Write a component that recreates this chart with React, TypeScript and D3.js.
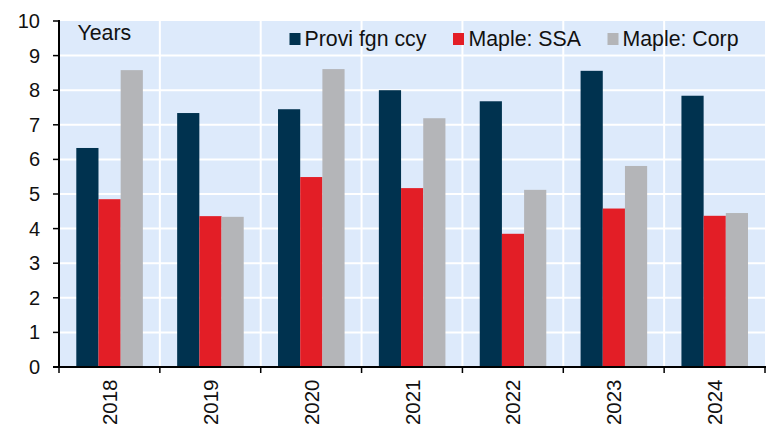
import React from "react";
import * as d3 from "d3";

const categories = ["2018", "2019", "2020", "2021", "2022", "2023", "2024"];
const seriesNames = ["Provi fgn ccy", "Maple: SSA", "Maple: Corp"];
const proviFgnCcy = [6.33, 7.34, 7.45, 8.0, 7.68, 8.56, 7.84];
const mapleSSA = [4.85, 4.36, 5.49, 5.17, 3.85, 4.58, 4.37];
const mapleCorp = [8.58, 4.34, 8.61, 7.19, 5.12, 5.81, 4.45];
const yTicks = [0, 1, 2, 3, 4, 5, 6, 7, 8, 9, 10];
const colors = ["#00324F", "#E31E26", "#B4B5B8"];

const W = 775;
const H = 424;
const left = 59;
const right = 765;
const top = 21;
const bottom = 367;
const FONT = "'Liberation Sans', Arial, sans-serif";

export default function App() {
  const seriesValues = [proviFgnCcy, mapleSSA, mapleCorp];
  const x0 = d3.scaleBand<string>().domain(categories).range([left, right]).padding(0);
  const bw = x0.bandwidth();
  const x1 = d3
    .scaleBand<string>()
    .domain(seriesNames)
    .range([17.3, bw - 17])
    .padding(0);
  const y = d3.scaleLinear().domain([0, 10]).range([bottom, top]);
  const boundaries = categories.map((c) => x0(c) as number).concat([right]);

  return (
    <svg
      width={W}
      height={H}
      style={{ position: "absolute", left: 0, top: 0, background: "#fff" }}
      fontFamily={FONT}
    >
      <rect x={left} y={top} width={right - left} height={bottom - top} fill="#DDEAFB" />
      {yTicks.slice(1, -1).map((t) => (
        <line key={"gh" + t} x1={left} x2={right} y1={y(t)} y2={y(t)} stroke="#fff" strokeWidth={2} />
      ))}
      {boundaries.slice(1, -1).map((b, i) => (
        <line key={"gv" + i} x1={b} x2={b} y1={top} y2={bottom} stroke="#fff" strokeWidth={2} />
      ))}
      {categories.map((c, ci) => (
        <g key={c} transform={`translate(${x0(c)},0)`}>
          {seriesNames.map((s, si) => {
            const v = seriesValues[si][ci];
            return (
              <rect
                key={s}
                x={x1(s)}
                y={y(v)}
                width={x1.bandwidth()}
                height={bottom - y(v)}
                fill={colors[si]}
              />
            );
          })}
        </g>
      ))}
      {/* y axis */}
      <line x1={left} x2={left} y1={top - 1} y2={bottom + 1} stroke="#000" strokeWidth={2} />
      {yTicks.map((t) => (
        <g key={"yt" + t}>
          <line x1={left - 6} x2={left} y1={y(t)} y2={y(t)} stroke="#000" strokeWidth={1.5} />
          <text
            x={40}
            y={y(t)}
            textAnchor="end"
            dominantBaseline="central"
            fontSize={20}
            fill="#111"
          >
            {t}
          </text>
        </g>
      ))}
      {/* x axis */}
      <line x1={left - 6} x2={right + 1} y1={bottom} y2={bottom} stroke="#000" strokeWidth={2} />
      {boundaries.map((b, i) => (
        <line key={"xt" + i} x1={b} x2={b} y1={bottom} y2={bottom + 6} stroke="#000" strokeWidth={1.5} />
      ))}
      {categories.map((c) => {
        const cx = (x0(c) as number) + bw / 2;
        return (
          <text
            key={"xl" + c}
            transform={`translate(${cx},379.5) rotate(-90)`}
            textAnchor="end"
            dominantBaseline="central"
            fontSize={20.5}
            fill="#111"
          >
            {c}
          </text>
        );
      })}
      <text x={77.5} y={39.5} fontSize={21.3} fill="#111">
        Years
      </text>
      {/* legend */}
      {[
        { name: seriesNames[0], sx: 289.5, tx: 304.5 },
        { name: seriesNames[1], sx: 453, tx: 468.5 },
        { name: seriesNames[2], sx: 607.5, tx: 622.5 },
      ].map((l, i) => (
        <g key={"lg" + i}>
          <rect x={l.sx} y={33} width={11} height={12} fill={colors[i]} />
          <text x={l.tx} y={46} fontSize={21.3} fill="#111">
            {l.name}
          </text>
        </g>
      ))}
    </svg>
  );
}
